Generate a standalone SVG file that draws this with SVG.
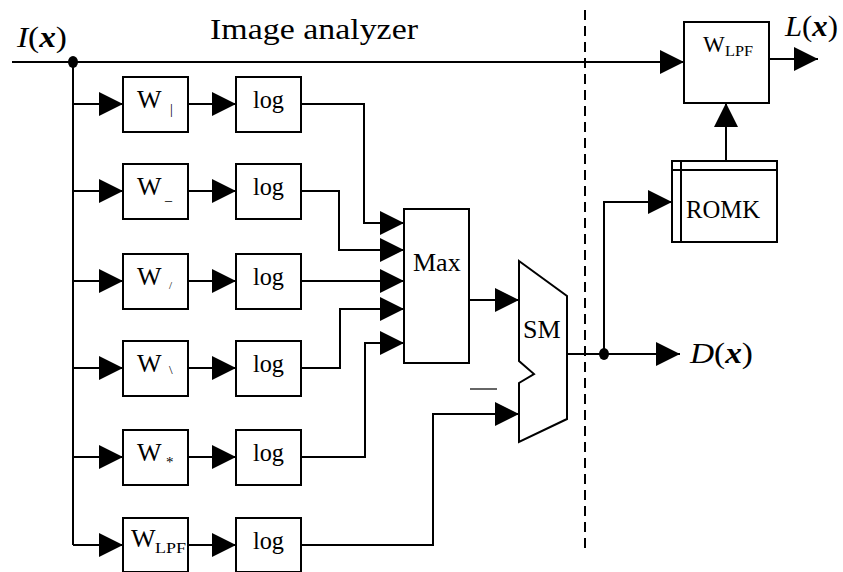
<svg xmlns="http://www.w3.org/2000/svg" width="843" height="572" viewBox="0 0 843 572" font-family="'Liberation Serif', 'Times New Roman', serif">
<style>
.box{fill:#fff;stroke:#000;stroke-width:2}
.ln{fill:none;stroke:#000;stroke-width:2}
.t{font-family:'Liberation Serif','Times New Roman',serif;fill:#000}
.m{font-size:26px}
.s{font-size:14px}
</style>
<defs>
<marker id="ah" markerUnits="userSpaceOnUse" viewBox="0 0 24 24" markerWidth="24" markerHeight="24" refX="24" refY="12" orient="auto">
<path d="M0,0 L24,12 L0,24 Z" fill="#000"/>
</marker>
</defs>
<rect width="843" height="572" fill="#fff"/>

<g id="connectors">
<line class="ln" x1="12" y1="62" x2="684" y2="62" marker-end="url(#ah)"/>
<line class="ln" x1="73" y1="62" x2="73" y2="545"/>
<line class="ln" x1="73" y1="104" x2="123" y2="104" marker-end="url(#ah)"/>
<line class="ln" x1="73" y1="191" x2="123" y2="191" marker-end="url(#ah)"/>
<line class="ln" x1="73" y1="281" x2="123" y2="281" marker-end="url(#ah)"/>
<line class="ln" x1="73" y1="368" x2="123" y2="368" marker-end="url(#ah)"/>
<line class="ln" x1="73" y1="457" x2="123" y2="457" marker-end="url(#ah)"/>
<line class="ln" x1="73" y1="545" x2="123" y2="545" marker-end="url(#ah)"/>
<line class="ln" x1="188" y1="104" x2="236" y2="104" marker-end="url(#ah)"/>
<line class="ln" x1="188" y1="191" x2="236" y2="191" marker-end="url(#ah)"/>
<line class="ln" x1="188" y1="281" x2="236" y2="281" marker-end="url(#ah)"/>
<line class="ln" x1="188" y1="368" x2="236" y2="368" marker-end="url(#ah)"/>
<line class="ln" x1="188" y1="457" x2="236" y2="457" marker-end="url(#ah)"/>
<line class="ln" x1="188" y1="545" x2="236" y2="545" marker-end="url(#ah)"/>
<polyline class="ln" points="301,104 364,104 364,223 404,223" marker-end="url(#ah)"/>
<polyline class="ln" points="301,191 339,191 339,250 404,250" marker-end="url(#ah)"/>
<polyline class="ln" points="301,281 404,281" marker-end="url(#ah)"/>
<polyline class="ln" points="301,368 340,368 340,309 404,309" marker-end="url(#ah)"/>
<polyline class="ln" points="301,457 365,457 365,343 404,343" marker-end="url(#ah)"/>
<line class="ln" x1="469" y1="300" x2="519" y2="300" marker-end="url(#ah)"/>
<polyline class="ln" points="301,545 433,545 433,414 519,414" marker-end="url(#ah)"/>
<line x1="470" y1="389" x2="497" y2="389" stroke="#000" stroke-width="1.2"/>
<line class="ln" x1="567" y1="354" x2="680" y2="354" marker-end="url(#ah)"/>
<polyline class="ln" points="604,354 604,202 672,202" marker-end="url(#ah)"/>
<line class="ln" x1="726" y1="161" x2="726" y2="103" marker-end="url(#ah)"/>
<line class="ln" x1="769" y1="59" x2="818" y2="59" marker-end="url(#ah)"/>
<ellipse cx="73" cy="62" rx="5" ry="6" fill="#000"/>
<ellipse cx="604" cy="354" rx="5" ry="6" fill="#000"/>
<line x1="585" y1="10" x2="585" y2="550" stroke="#000" stroke-width="2" stroke-dasharray="10 6"/>
</g>

<g id="labels">
<text class="t" x="210" y="39" font-size="29" textLength="208" lengthAdjust="spacingAndGlyphs">Image analyzer</text>
<text class="t" x="17" y="47" font-size="30" textLength="50" lengthAdjust="spacingAndGlyphs"><tspan font-style="italic">I</tspan>(<tspan font-style="italic" font-weight="bold">x</tspan>)</text>
<text class="t" x="785" y="36" font-size="30" textLength="53" lengthAdjust="spacingAndGlyphs"><tspan font-style="italic">L</tspan>(<tspan font-style="italic" font-weight="bold">x</tspan>)</text>
<text class="t" x="690" y="363" font-size="30" textLength="63" lengthAdjust="spacingAndGlyphs"><tspan font-style="italic">D</tspan>(<tspan font-style="italic" font-weight="bold">x</tspan>)</text>
</g>

<g id="w1"><rect class="box" x="123" y="77" width="65" height="55"/><text class="t m" x="137" y="108">W</text><text class="t s" x="170" y="114">|</text></g>
<g id="w2"><rect class="box" x="123" y="164" width="65" height="55"/><text class="t m" x="137" y="195">W</text><text class="t s" x="165" y="200">_</text></g>
<g id="w3"><rect class="box" x="123" y="254" width="65" height="55"/><text class="t m" x="137" y="285">W</text><text class="t" font-size="11" x="169" y="289">/</text></g>
<g id="w4"><rect class="box" x="123" y="341" width="65" height="55"/><text class="t m" x="137" y="372">W</text><text class="t" font-size="13" x="169" y="374">\</text></g>
<g id="w5"><rect class="box" x="123" y="430" width="65" height="55"/><text class="t m" x="137" y="461">W</text><text class="t" font-size="15" x="166" y="467">*</text></g>
<g id="w6"><rect class="box" x="123" y="518" width="65" height="54"/><text class="t m" x="131" y="547">W</text><text class="t" font-size="15" x="155" y="553" textLength="31" lengthAdjust="spacingAndGlyphs">LPF</text></g>

<g id="log1"><rect class="box" x="236" y="77" width="65" height="55"/><text class="t m" x="253" y="108" textLength="31" lengthAdjust="spacingAndGlyphs">log</text></g>
<g id="log2"><rect class="box" x="236" y="164" width="65" height="55"/><text class="t m" x="253" y="195" textLength="31" lengthAdjust="spacingAndGlyphs">log</text></g>
<g id="log3"><rect class="box" x="236" y="254" width="65" height="55"/><text class="t m" x="253" y="285" textLength="31" lengthAdjust="spacingAndGlyphs">log</text></g>
<g id="log4"><rect class="box" x="236" y="341" width="65" height="55"/><text class="t m" x="253" y="372" textLength="31" lengthAdjust="spacingAndGlyphs">log</text></g>
<g id="log5"><rect class="box" x="236" y="430" width="65" height="55"/><text class="t m" x="253" y="461" textLength="31" lengthAdjust="spacingAndGlyphs">log</text></g>
<g id="log6"><rect class="box" x="236" y="518" width="65" height="54"/><text class="t m" x="253" y="549" textLength="31" lengthAdjust="spacingAndGlyphs">log</text></g>

<g id="max"><rect class="box" x="404" y="209" width="65" height="154"/><text class="t m" x="413" y="271">Max</text></g>
<g id="sm"><polygon class="box" points="519,261 567,296 567,419 519,442 519,383 534,374 519,361"/><text class="t m" x="523" y="338">SM</text></g>
<g id="romk"><rect class="box" x="672" y="161" width="105" height="81"/><line class="ln" x1="672" y1="170" x2="777" y2="170"/><line class="ln" x1="681" y1="161" x2="681" y2="242"/><text class="t" font-size="25" x="686" y="218" textLength="74" lengthAdjust="spacingAndGlyphs">ROMK</text></g>
<g id="wlpf"><rect class="box" x="684" y="22" width="85" height="81"/><text class="t" font-size="23" x="703" y="52">W</text><text class="t" font-size="14" x="725" y="56" textLength="28" lengthAdjust="spacingAndGlyphs">LPF</text></g>
</svg>
